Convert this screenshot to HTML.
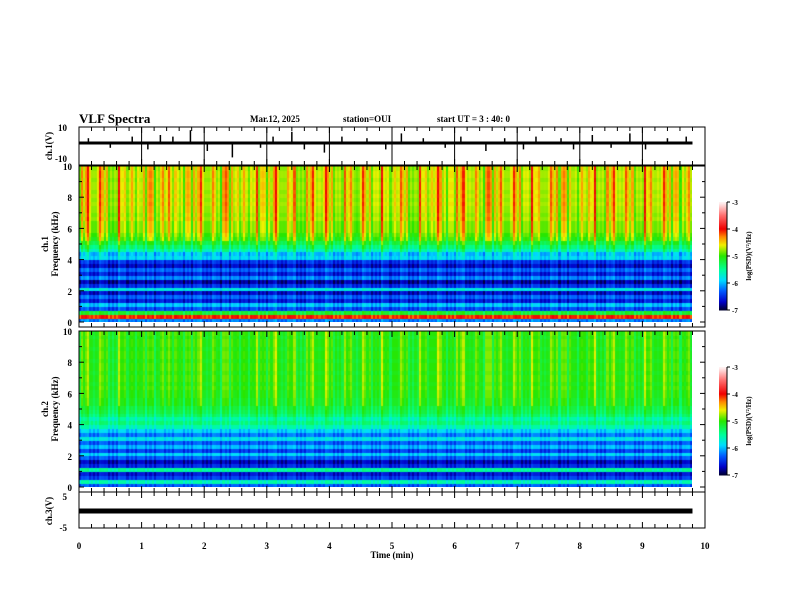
<!DOCTYPE html>
<html><head><meta charset="utf-8"><style>
body{margin:0;background:#fff;width:792px;height:612px;overflow:hidden;position:relative;font-family:"Liberation Serif",serif;}
svg{position:absolute;left:0;top:0}
canvas{position:absolute}
</style></head><body>
<canvas id="spec1" style="left:79px;top:166px" width="613" height="156"></canvas>
<canvas id="spec2" style="left:79px;top:331px" width="613" height="156"></canvas>
<svg id="svg" width="792" height="612" font-family="Liberation Serif, serif" font-weight="bold"></svg>
<script>
// ---- data ----
const timeTicks=[0,1,2,3,4,5,6,7,8,9,10];
const freqTicks=[0,2,4,6,8,10];
const cbTicks=[-3,-4,-5,-6,-7];
// frequency profile (log PSD baseline), rows 0..10 kHz in 0.25 kHz steps (40 rows)
const ch1Profile=[-6.2,-4.1,-5.2,-6.4,-6.0,-6.6,-6.3,-6.7,-5.8,-6.5,-6.8,-6.2,-6.6,-6.3,-6.7,-6.5,-5.9,-6.1,-5.7,-5.5,-5.3,-5.2,-5.1,-5.0,-5.0,-5.0,-4.9,-4.95,-4.9,-4.9,-4.85,-4.9,-4.85,-4.9,-4.85,-4.85,-4.9,-4.85,-4.85,-4.9];
const ch2Profile=[-6.3,-5.6,-6.4,-6.6,-5.5,-6.5,-6.7,-6.3,-5.9,-6.4,-6.0,-6.3,-5.8,-6.2,-5.9,-5.6,-5.4,-5.6,-5.4,-5.3,-5.25,-5.2,-5.2,-5.15,-5.15,-5.1,-5.15,-5.1,-5.1,-5.15,-5.1,-5.1,-5.15,-5.1,-5.1,-5.15,-5.1,-5.1,-5.15,-5.1];
// burst intensity per 0.1 min (0..9.7 min)
const ch1Bursts=[0.6,0.9,0.3,0.8,0.5,0.2,0.9,0.4,0.7,0.3,0.5,0.8,0.2,0.6,0.9,0.4,0.3,0.7,0.5,0.8,0.3,0.6,0.2,0.9,0.5,0.4,0.7,0.3,0.8,0.6,0.4,0.9,0.3,0.5,0.7,0.2,0.6,0.8,0.4,0.9,0.5,0.3,0.7,0.6,0.2,0.8,0.5,0.4,0.9,0.3,0.6,0.7,0.5,0.2,0.8,0.4,0.6,0.9,0.3,0.5,0.7,0.8,0.4,0.6,0.2,0.9,0.5,0.7,0.3,0.8,0.6,0.4,0.9,0.5,0.3,0.7,0.6,0.8,0.4,0.2,0.7,0.5,0.9,0.3,0.6,0.8,0.4,0.7,0.5,0.3,0.9,0.6,0.4,0.8,0.5,0.7,0.3,0.6];
const ch2Bursts=[0.4,0.6,0.2,0.5,0.3,0.1,0.6,0.3,0.5,0.2,0.3,0.5,0.1,0.4,0.7,0.3,0.2,0.5,0.3,0.6,0.2,0.4,0.1,0.6,0.3,0.2,0.5,0.2,0.6,0.4,0.3,0.7,0.2,0.3,0.5,0.1,0.4,0.6,0.3,0.7,0.3,0.2,0.5,0.4,0.1,0.6,0.3,0.3,0.7,0.2,0.4,0.5,0.3,0.1,0.6,0.3,0.4,0.7,0.2,0.3,0.5,0.6,0.3,0.4,0.1,0.7,0.3,0.5,0.2,0.6,0.4,0.3,0.7,0.3,0.2,0.5,0.4,0.6,0.3,0.1,0.5,0.3,0.7,0.2,0.4,0.6,0.3,0.5,0.3,0.2,0.7,0.4,0.3,0.6,0.3,0.5,0.2,0.4];
// ch1 waveform spikes: [time(min), amplitude(V)]
const ch1Spikes=[[0.15,3],[0.5,-3],[0.85,4],[1.1,-4],[1.3,5],[1.5,4],[1.78,8],[2.05,-5],[2.45,-9],[2.9,-3],[3.1,4],[3.4,7],[3.6,-4],[3.92,-6],[4.2,4],[4.6,3],[4.9,-4],[5.15,6],[5.5,3],[5.85,-3],[6.1,4],[6.5,-5],[6.8,3],[7.1,-4],[7.3,4],[7.7,3],[7.9,-4],[8.2,5],[8.5,-3],[8.8,6],[9.05,-4],[9.4,3],[9.7,4]];
const ch3Value=0;
// ---- drawing ----
const X0=79,X1=705; const xs=t=>X0+(t/10)*(X1-X0);
const stops=[[-7,[0,0,50]],[-6.7,[0,0,200]],[-6.3,[0,90,255]],[-5.9,[0,220,255]],[-5.5,[0,255,150]],[-5.0,[40,230,0]],[-4.6,[240,240,0]],[-4.3,[255,140,0]],[-4.0,[240,0,0]],[-3.5,[255,110,110]],[-3,[255,250,250]]];
function cmap(v){if(v<=stops[0][0])return stops[0][1];for(let i=1;i<stops.length;i++){if(v<=stops[i][0]){const a=stops[i-1],b=stops[i],f=(v-a[0])/(b[0]-a[0]);return a[1].map((c,k)=>Math.round(c+(b[1][k]-c)*f));}}return stops[stops.length-1][1];}
function drawSpec(id,prof,bursts,gain){
  const c=document.getElementById(id),g=c.getContext('2d');
  const W=c.width,H=c.height,nr=prof.length,nc=bursts.length;
  const cw=(xs(0.1)-xs(0));
  for(let j=0;j<nc;j++){for(let s=0;s<3;s++){
    const x=j*cw+s*cw/3;
    const b=bursts[j]*(s===1?1:0.3+0.3*((j+s)%2));
    for(let r=0;r<nr;r++){
      const fr=r/nr;
      const w=fr>0.5?1:(fr>0.4?0.6:0.25);
      const v=prof[r]+b*gain*w-0.2*((j*7+r*3+s)%3===0?1:0);
      const col=cmap(v);
      g.fillStyle=`rgb(${col[0]},${col[1]},${col[2]})`;
      const y=H-(r+1)*H/nr;
      g.fillRect(Math.floor(x),Math.floor(y),Math.ceil(cw/3)+1,Math.ceil(H/nr)+1);
    }}}
}
drawSpec('spec1',ch1Profile,ch1Bursts,1.0);
drawSpec('spec2',ch2Profile,ch2Bursts,0.7);

const NS="http://www.w3.org/2000/svg";const svg=document.getElementById('svg');
function el(tag,attrs,parent){const e=document.createElementNS(NS,tag);for(const k in attrs)e.setAttribute(k,attrs[k]);(parent||svg).appendChild(e);return e;}
function txt(s,x,y,size,anchor,name,rot){const t=el('text',{x:x,y:y,'font-size':size,'text-anchor':anchor||'start'});if(rot)t.setAttribute('transform',`rotate(-90 ${x} ${y})`);t.textContent=s;


return t;}
function frame(y0,y1,name){const r=el('rect',{x:X0,y:y0,width:X1-X0,height:y1-y0,fill:'none',stroke:'#000','stroke-width':1});


for(let t=0;t<=10.001;t+=0.2){const x=xs(t);const maj=Math.abs(t-Math.round(t))<0.01;const L=maj?6:4;
el('line',{x1:x,y1:y0,x2:x,y2:y0+L,stroke:'#000'});el('line',{x1:x,y1:y1,x2:x,y2:y1-L,stroke:'#000'});}}
// header
txt('VLF Spectra',79,123,13,'start','chart-title');
txt('Mar.12, 2025',250,122,9,'start','date-label');
txt('station=OUI',343,122,9,'start','station-label');
txt('start  UT =  3 : 40: 0',437,122,9,'start','start-time-label');
// panel 1
frame(127,165,'ch1-waveform-frame');
timeTicks.forEach(t=>{const l=el('line',{x1:xs(t),y1:127,x2:xs(t),y2:165,stroke:'#000'});});
const y1v=v=>143-v*1.6;
el('rect',{x:X0,y:y1v(0)-1.5,width:xs(9.8)-X0,height:3,fill:'#000'});
ch1Spikes.forEach(s=>{const l=el('line',{x1:xs(s[0]),y1:y1v(0),x2:xs(s[0]),y2:y1v(s[1]),stroke:'#000','stroke-width':1.5});

});
txt('10',67,131,9,'end','ch1-ytick-10');txt('-10',67,162,9,'end','ch1-ytick-neg10');
txt('ch.1(V)',52,146,9,'middle','ch1-y-axis-title',true);
// spectrogram panels
function specPanel(top,name,ch){const bot=top+156;frame(top,bot+5,name+'-frame');
const fy=f=>bot-f/10*156;
freqTicks.forEach(f=>{el('line',{x1:X0,y1:fy(f),x2:X0+5,y2:fy(f),stroke:'#000'});el('line',{x1:X1,y1:fy(f),x2:X1-5,y2:fy(f),stroke:'#000'});txt(String(f),72,fy(f)+4,9,'end',name+'-ytick-'+f);});
for(let f=1;f<10;f+=2){el('line',{x1:X0,y1:fy(f),x2:X0+3,y2:fy(f),stroke:'#000'});el('line',{x1:X1,y1:fy(f),x2:X1-3,y2:fy(f),stroke:'#000'});}
txt('ch.'+ch,48,top+78,9,'middle',name+'-y-title-ch',true);
txt('Frequency  (kHz)',58,top+78,9,'middle',name+'-y-title-freq',true);
const cb0=top+36,cb1=top+144;const g=el('g',{});
for(let i=0;i<108;i++){const v=-7+4*(i/108);const c=cmap(v);el('rect',{x:719,y:cb1-i-1,width:8,height:1.5,fill:`rgb(${c})`},g);}
el('line',{x1:727,y1:cb0,x2:727,y2:cb1,stroke:'#000'},g);
cbTicks.forEach(v=>{const y=cb1-(v+7)/4*108;el('line',{x1:727,y1:y,x2:730,y2:y,stroke:'#000'},g);txt(String(v),732,y+3,7,'start',name+'-cb-tick');});
txt('log(PSD)(V\u00b2/Hz)',751,top+90,7,'middle',name+'-cb-label',true);}
specPanel(166,'ch1-spec',1);
specPanel(331,'ch2-spec',2);
// panel 4
frame(492,528,'ch3-frame');
txt('5',67,500,9,'end','ch3-ytick-5');txt('-5',67,531,9,'end','ch3-ytick-neg5');
const y3=v=>511-v*3.4;
const l3=el('rect',{x:X0,y:y3(ch3Value)-2.5,width:xs(9.8)-X0,height:5,fill:'#000'});


txt('ch.3(V)',52,511,9,'middle','ch3-y-axis-title',true);
timeTicks.forEach(t=>txt(String(t),xs(t),549,9,'middle','x-tick-'+t));
txt('Time  (min)',392,558,9,'middle','x-axis-title');
</script>
</body></html>
